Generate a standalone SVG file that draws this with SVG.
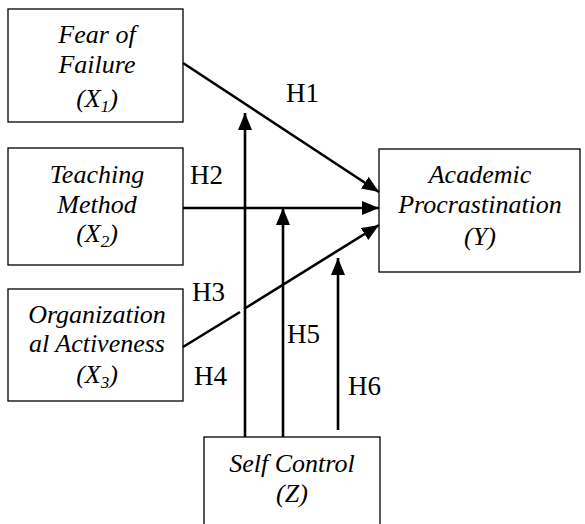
<svg xmlns="http://www.w3.org/2000/svg" width="585" height="524" viewBox="0 0 585 524">
<defs>
<marker id="ah" markerUnits="userSpaceOnUse" markerWidth="18" markerHeight="14" refX="17" refY="7" orient="auto">
<path d="M0,0 L17,7 L0,14 z" fill="#000"/>
</marker>
</defs>
<rect width="585" height="524" fill="#fff"/>
<g id="x1">
<rect fill="#fff" stroke="#000" stroke-width="1.3" x="8" y="9" width="175" height="113"/>
<text style="font-family:'Liberation Serif','Times New Roman',serif;font-style:italic;font-size:26px" text-anchor="middle" x="97" y="43">Fear of</text>
<text style="font-family:'Liberation Serif','Times New Roman',serif;font-style:italic;font-size:26px" text-anchor="middle" x="97" y="73">Failure</text>
<text style="font-family:'Liberation Serif','Times New Roman',serif;font-style:italic;font-size:26px" text-anchor="middle" x="97" y="107">(X<tspan style="font-size:17px" dy="5">1</tspan><tspan dy="-5">)</tspan></text>
</g>
<g id="x2">
<rect fill="#fff" stroke="#000" stroke-width="1.3" x="8" y="148" width="175" height="117"/>
<text style="font-family:'Liberation Serif','Times New Roman',serif;font-style:italic;font-size:26px" text-anchor="middle" x="97" y="183">Teaching</text>
<text style="font-family:'Liberation Serif','Times New Roman',serif;font-style:italic;font-size:26px" text-anchor="middle" x="97" y="213">Method</text>
<text style="font-family:'Liberation Serif','Times New Roman',serif;font-style:italic;font-size:26px" text-anchor="middle" x="97" y="242">(X<tspan style="font-size:17px" dy="5">2</tspan><tspan dy="-5">)</tspan></text>
</g>
<g id="x3">
<rect fill="#fff" stroke="#000" stroke-width="1.3" x="8" y="289" width="175" height="112"/>
<text style="font-family:'Liberation Serif','Times New Roman',serif;font-style:italic;font-size:26px" text-anchor="middle" x="97" y="323">Organization</text>
<text style="font-family:'Liberation Serif','Times New Roman',serif;font-style:italic;font-size:26px" text-anchor="middle" x="97" y="352">al Activeness</text>
<text style="font-family:'Liberation Serif','Times New Roman',serif;font-style:italic;font-size:26px" text-anchor="middle" x="97" y="383">(X<tspan style="font-size:17px" dy="5">3</tspan><tspan dy="-5">)</tspan></text>
</g>
<g id="y">
<rect fill="#fff" stroke="#000" stroke-width="1.3" x="379" y="149" width="201" height="123"/>
<text style="font-family:'Liberation Serif','Times New Roman',serif;font-style:italic;font-size:26px" text-anchor="middle" x="480" y="183">Academic</text>
<text style="font-family:'Liberation Serif','Times New Roman',serif;font-style:italic;font-size:26px" text-anchor="middle" x="480" y="213">Procrastination</text>
<text style="font-family:'Liberation Serif','Times New Roman',serif;font-style:italic;font-size:26px" text-anchor="middle" x="480" y="245">(Y)</text>
</g>
<g id="z">
<rect fill="#fff" stroke="#000" stroke-width="1.3" x="204" y="437" width="176" height="100"/>
<text style="font-family:'Liberation Serif','Times New Roman',serif;font-style:italic;font-size:26px" text-anchor="middle" x="292" y="472">Self Control</text>
<text style="font-family:'Liberation Serif','Times New Roman',serif;font-style:italic;font-size:26px" text-anchor="middle" x="292" y="502">(Z)</text>
</g>
<g id="connectors" stroke="#000" stroke-width="2.6" fill="none">
<line x1="183" y1="63" x2="379" y2="192" marker-end="url(#ah)"/>
<line x1="183" y1="208" x2="379" y2="208" marker-end="url(#ah)"/>
<line x1="183" y1="347" x2="240" y2="312"/>
<line x1="244" y1="309" x2="379" y2="225" marker-end="url(#ah)"/>
<line x1="245" y1="437" x2="245" y2="113" marker-end="url(#ah)"/>
<line x1="283" y1="437" x2="283" y2="208" marker-end="url(#ah)"/>
<line x1="338" y1="430" x2="338" y2="258" marker-end="url(#ah)"/>
</g>
<g id="labels">
<text style="font-family:'Liberation Serif','Times New Roman',serif;font-size:27px" x="286" y="102">H1</text>
<text style="font-family:'Liberation Serif','Times New Roman',serif;font-size:27px" x="190" y="184">H2</text>
<text style="font-family:'Liberation Serif','Times New Roman',serif;font-size:27px" x="192" y="301">H3</text>
<text style="font-family:'Liberation Serif','Times New Roman',serif;font-size:27px" x="194" y="385">H4</text>
<text style="font-family:'Liberation Serif','Times New Roman',serif;font-size:27px" x="287" y="343">H5</text>
<text style="font-family:'Liberation Serif','Times New Roman',serif;font-size:27px" x="348" y="395">H6</text>
</g>
</svg>
